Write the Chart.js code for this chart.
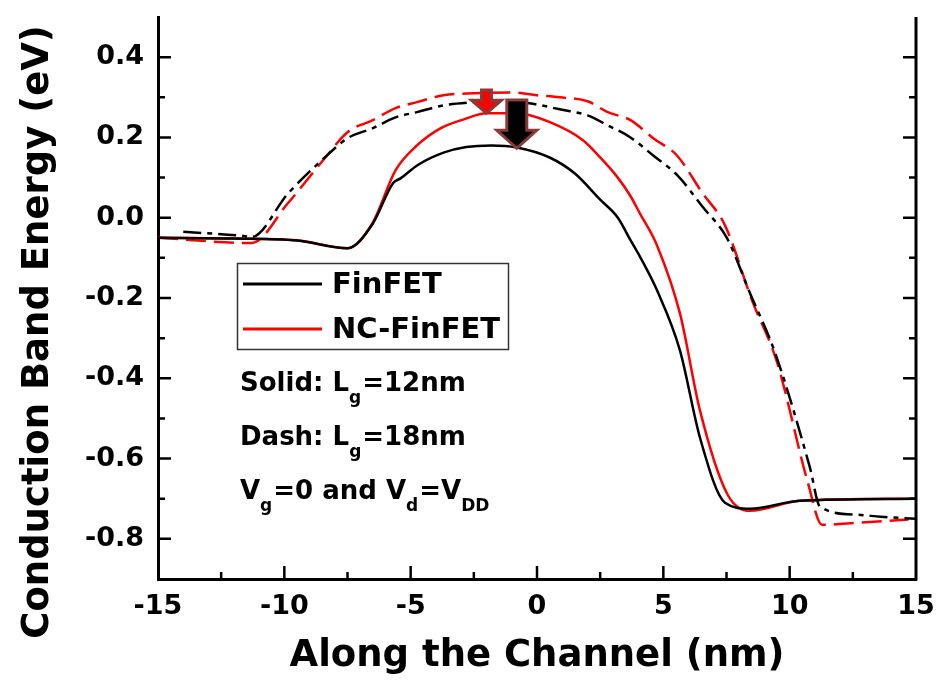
<!DOCTYPE html>
<html>
<head>
<meta charset="utf-8">
<script src="https://cdn.jsdelivr.net/npm/chart.js@4.4.0/dist/chart.umd.min.js"></script>
<style>
  html, body { margin: 0; padding: 0; background: #fff; }
  canvas { display: block; }
</style>
</head>
<body>
<canvas id="band-chart" width="938" height="681"></canvas>
<script>
// FinFET, Lg = 12nm (solid black)
const finX12 = [-15, -12, -9.5, -7.5, -6.5, -5.7, -5.4, -4.7, -3.7, -2.8, -1.8, -0.8, 0.5, 1.5, 2.5, 3.2, 3.7, 4.1, 4.75, 5.66, 6.45, 7.44, 8.43, 10.4, 15];
const finY12 = [-0.05, -0.052, -0.057, -0.076, -0.015, 0.086, 0.098, 0.132, 0.162, 0.176, 0.18, 0.175, 0.15, 0.11, 0.045, 0.0, -0.056, -0.1, -0.181, -0.331, -0.548, -0.71, -0.725, -0.705, -0.70];

// NC-FinFET, Lg = 12nm (solid red)
const ncX12 = [-15, -12, -9.5, -7.5, -6.5, -5.6, -4.75, -3.84, -2.9, -1.98, -0.79, 0.51, 1.82, 2.49, 3.16, 3.68, 4.07, 4.75, 5.66, 6.45, 7.52, 8.43, 10.4, 15];
const ncY12 = [-0.05, -0.052, -0.056, -0.076, -0.012, 0.118, 0.18, 0.222, 0.245, 0.26, 0.26, 0.238, 0.193, 0.151, 0.103, 0.056, 0.011, -0.069, -0.239, -0.48, -0.687, -0.73, -0.705, -0.70];

// FinFET, Lg = 18nm (dashed black)
const finX18 = [-14, -11.7, -11.3, -9.86, -8.4, -7.5, -6.5, -5.6, -4.75, -3.7, -2.5, -1.2, 0.0, 0.9, 2.0, 2.8, 3.7, 4.6, 5.55, 6.57, 7.52, 8.43, 9.42, 10.8, 11.2, 12.7, 13.6, 15];
const finY18 = [-0.035, -0.045, -0.048, 0.06, 0.15, 0.198, 0.223, 0.25, 0.263, 0.28, 0.288, 0.292, 0.282, 0.27, 0.255, 0.23, 0.2, 0.155, 0.106, 0.026, -0.051, -0.188, -0.336, -0.622, -0.72, -0.74, -0.745, -0.75];

// NC-FinFET, Lg = 18nm (dashed red)
const ncX18 = [-15, -11.3, -9.86, -8.4, -7.5, -6.5, -5.6, -4.75, -3.7, -2.5, -1.0, 0.0, 0.9, 2.0, 2.8, 3.7, 4.6, 5.54, 6.53, 7.44, 8.51, 9.5, 10.72, 11.28, 12.7, 14.7];
const ncY18 = [-0.05, -0.063, 0.036, 0.148, 0.213, 0.243, 0.273, 0.288, 0.305, 0.31, 0.312, 0.305, 0.30, 0.29, 0.263, 0.243, 0.198, 0.155, 0.063, -0.019, -0.206, -0.36, -0.66, -0.765, -0.76, -0.752];

// arrows marking the barrier drop (x position, tail energy, tip energy)
const arrowX = [-2.0, -0.8];
const arrowTail = [0.318, 0.293];
const arrowTip = [0.26, 0.173];

const xMajor = [-10, -5, 0, 5, 10];
const xMinor = [-12.5, -7.5, -2.5, 2.5, 7.5, 12.5];
const yMajor = [-0.8, -0.6, -0.4, -0.2, 0, 0.2, 0.4];
const yMinor = [-0.7, -0.5, -0.3, -0.1, 0.1, 0.3];

const FONT = "'DejaVu Sans', 'Liberation Sans', Arial, sans-serif";

function toPoints(xs, ys) {
    return xs.map((x, i) => ({ x: x, y: ys[i] }));
}

function yLabel(v) {
    const tenths = Math.round(v * 10);
    if (tenths % 2 !== 0) return '';
    return (tenths === 0 ? 0 : tenths / 10).toFixed(1);
}

// inward tick marks, right spine, arrows, legend and notes
const decorations = {
    id: 'decorations',
    afterDatasetsDraw(chart) {
        const ctx = chart.ctx;
        const xs = chart.scales.x;
        const ys = chart.scales.y;

        // arrows
        const arrowStyle = [
            { shaft: 10, head: 30, headLen: 13, fill: '#ff0000' },
            { shaft: 20, head: 40, headLen: 18, fill: '#000000' }
        ];
        arrowX.forEach((v, i) => {
            const st = arrowStyle[i];
            const cx = xs.getPixelForValue(v);
            const yt = ys.getPixelForValue(arrowTail[i]);
            const yp = ys.getPixelForValue(arrowTip[i]);
            const yh = yp - st.headLen;
            ctx.save();
            ctx.beginPath();
            ctx.moveTo(cx - st.shaft / 2, yt);
            ctx.lineTo(cx + st.shaft / 2, yt);
            ctx.lineTo(cx + st.shaft / 2, yh);
            ctx.lineTo(cx + st.head / 2, yh);
            ctx.lineTo(cx, yp);
            ctx.lineTo(cx - st.head / 2, yh);
            ctx.lineTo(cx - st.shaft / 2, yh);
            ctx.closePath();
            ctx.fillStyle = st.fill;
            ctx.fill();
            ctx.lineWidth = 3;
            ctx.strokeStyle = '#8b3a3a';
            ctx.stroke();
            ctx.restore();
        });
    },
    afterDraw(chart) {
        const ctx = chart.ctx;
        const xs = chart.scales.x;
        const ys = chart.scales.y;
        const area = chart.chartArea;

        ctx.save();
        ctx.strokeStyle = '#000';
        ctx.lineWidth = 3;
        // right spine
        ctx.beginPath();
        ctx.moveTo(area.right, area.top);
        ctx.lineTo(area.right, area.bottom + 1.5);
        ctx.stroke();

        ctx.lineWidth = 2.5;
        ctx.beginPath();
        yMajor.concat(yMinor).forEach(v => {
            const len = yMajor.includes(v) ? 13 : 7;
            const py = ys.getPixelForValue(v);
            ctx.moveTo(area.left, py);
            ctx.lineTo(area.left + len, py);
            ctx.moveTo(area.right, py);
            ctx.lineTo(area.right - len, py);
        });
        xMajor.concat(xMinor).forEach(v => {
            const len = xMajor.includes(v) ? 13 : 7;
            const px = xs.getPixelForValue(v);
            ctx.moveTo(px, area.bottom);
            ctx.lineTo(px, area.bottom - len);
        });
        ctx.stroke();

        // y axis title
        ctx.save();
        ctx.translate(38, 332);
        ctx.rotate(-Math.PI / 2);
        ctx.font = 'bold 37px ' + FONT;
        ctx.fillStyle = '#000';
        ctx.textAlign = 'center';
        ctx.textBaseline = 'middle';
        ctx.fillText('Conduction Band Energy (eV)', 0, 0);
        ctx.restore();

        // legend box
        ctx.lineWidth = 1.5;
        ctx.strokeStyle = '#333';
        ctx.strokeRect(237.5, 263.5, 271, 86);
        ctx.lineWidth = 3;
        ctx.strokeStyle = '#000';
        ctx.beginPath();
        ctx.moveTo(243, 284);
        ctx.lineTo(322, 284);
        ctx.stroke();
        ctx.strokeStyle = '#ff0000';
        ctx.beginPath();
        ctx.moveTo(243, 329);
        ctx.lineTo(322, 329);
        ctx.stroke();
        ctx.fillStyle = '#000';
        ctx.font = 'bold 29px ' + FONT;
        ctx.textAlign = 'left';
        ctx.textBaseline = 'middle';
        ctx.fillText('FinFET', 332, 285);
        ctx.fillText('NC-FinFET', 332, 330);

        // notes with subscripts
        const lines = [
            { y: 391, parts: [['Solid: L', 0], ['g', 1], ['=12nm', 0]] },
            { y: 445, parts: [['Dash: L', 0], ['g', 1], ['=18nm', 0]] },
            { y: 499, parts: [['V', 0], ['g', 1], ['=0 and V', 0], ['d', 1], ['=V', 0], ['DD', 1]] }
        ];
        ctx.textBaseline = 'alphabetic';
        lines.forEach(line => {
            let px = 240;
            line.parts.forEach(([txt, sub]) => {
                ctx.font = sub ? 'bold 17px ' + FONT : 'bold 26px ' + FONT;
                ctx.fillText(txt, px, sub ? line.y + 12 : line.y);
                px += ctx.measureText(txt).width + (sub ? 1 : 0);
            });
        });
        ctx.restore();
    }
};

const ctx = document.getElementById('band-chart').getContext('2d');
const bandChart = new Chart(ctx, {
    type: 'scatter',
    data: {
        datasets: [
            {
                label: 'FinFET Lg=12nm',
                data: toPoints(finX12, finY12),
                borderColor: '#000000',
                borderWidth: 2.5
            },
            {
                label: 'FinFET Lg=18nm',
                data: toPoints(finX18, finY18),
                borderColor: '#000000',
                borderWidth: 2.5,
                borderDash: [18, 6, 5, 6]
            },
            {
                label: 'NC-FinFET Lg=18nm',
                data: toPoints(ncX18, ncY18),
                borderColor: '#ff0000',
                borderWidth: 2.5,
                borderDash: [20, 8]
            },
            {
                label: 'NC-FinFET Lg=12nm',
                data: toPoints(ncX12, ncY12),
                borderColor: '#ff0000',
                borderWidth: 2.5
            }
        ]
    },
    options: {
        responsive: false,
        animation: false,
        devicePixelRatio: 1,
        showLine: true,
        elements: {
            point: { radius: 0, hoverRadius: 0 },
            line: { tension: 0, cubicInterpolationMode: 'monotone', fill: false }
        },
        layout: { padding: { top: 17, right: 22, left: 0, bottom: 0 } },
        scales: {
            x: {
                type: 'linear',
                min: -15,
                max: 15,
                afterFit: s => { s.height = 102; s.paddingLeft = 0; s.paddingRight = 0; },
                grid: { display: false, drawTicks: false },
                border: { display: true, color: '#000', width: 3 },
                ticks: {
                    stepSize: 5,
                    color: '#000',
                    padding: 12,
                    font: { family: FONT, size: 27, weight: 'bold' }
                },
                title: {
                    display: true,
                    text: 'Along the Channel (nm)',
                    color: '#000',
                    padding: { top: 4, bottom: 2 },
                    font: { family: FONT, size: 37, weight: 'bold' }
                }
            },
            y: {
                type: 'linear',
                min: -0.9,
                max: 0.5,
                afterFit: s => { s.width = 158; s.paddingTop = 0; s.paddingBottom = 0; },
                grid: { display: false, drawTicks: false },
                border: { display: true, color: '#000', width: 3 },
                ticks: {
                    stepSize: 0.1,
                    color: '#000',
                    padding: 14,
                    font: { family: FONT, size: 27, weight: 'bold' },
                    callback: yLabel
                }
            }
        },
        plugins: {
            legend: { display: false },
            tooltip: { enabled: false }
        }
    },
    plugins: [decorations]
});
</script>
</body>
</html>
